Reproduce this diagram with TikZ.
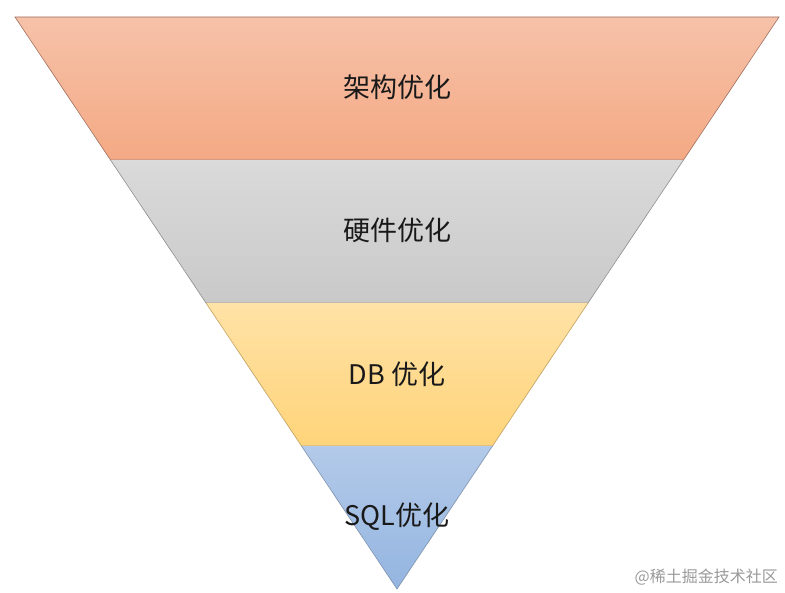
\documentclass[tikz,border=0pt]{standalone}
\usepackage{fontspec}
\newfontfamily\cjk{Noto Sans CJK SC}
\definecolor{oTop}{HTML}{F6C2A9}
\definecolor{oBot}{HTML}{F4A984}
\definecolor{oLine}{HTML}{A07060}
\definecolor{gTop}{HTML}{DADADA}
\definecolor{gBot}{HTML}{C9C9C9}
\definecolor{gLine}{HTML}{8E8E8E}
\definecolor{yTop}{HTML}{FFE2A6}
\definecolor{yBot}{HTML}{FFD47A}
\definecolor{yLine}{HTML}{C0A060}
\definecolor{bTop}{HTML}{B3CAE9}
\definecolor{bBot}{HTML}{94B5E0}
\definecolor{bLine}{HTML}{7E92AE}
\definecolor{wm}{HTML}{9A9A9A}
\tikzset{
  lbl/.style={font=\cjk\fontsize{27}{32}\selectfont, text=black!90, inner sep=0pt},
  band/.style={line width=0.6pt},
}
\begin{document}
\begin{tikzpicture}[x=1pt,y=-1pt]
\useasboundingbox (0,0) rectangle (785,593);
% coordinates
\coordinate (L0) at (15,17);   \coordinate (R0) at (779,17);
\coordinate (L1) at (110.5,160); \coordinate (R1) at (683.5,160);
\coordinate (L2) at (206,303); \coordinate (R2) at (588,303);
\coordinate (L3) at (301.5,446); \coordinate (R3) at (492.5,446);
\coordinate (A) at (397,589);
% bands
\shade[top color=oTop, bottom color=oBot] (L0) -- (R0) -- (R1) -- (L1) -- cycle;
\draw[band, oLine] (L0) -- (R0) -- (R1) -- (L1) -- cycle;
\shade[top color=gTop, bottom color=gBot] (L1) -- (R1) -- (R2) -- (L2) -- cycle;
\draw[band, gLine] (L1) -- (L2) -- (R2) -- (R1);
\shade[top color=yTop, bottom color=yBot] (L2) -- (R2) -- (R3) -- (L3) -- cycle;
\draw[band, yLine] (L2) -- (L3) -- (R3) -- (R2);
\shade[top color=bTop, bottom color=bBot] (L3) -- (R3) -- (A) -- cycle;
\draw[band, bLine] (L3) -- (A) -- (R3);
% labels
\node[lbl] (t1) at (397,87) {架构优化};
\node[lbl] (t2) at (397,230) {硬件优化};
\node[lbl] (t3) at (397,374) {DB 优化};
\node[lbl] (t4) at (397,517) {SQL优化};
% watermark
\node[font=\cjk\fontsize{16}{19}\selectfont, text=wm, anchor=east, inner sep=0pt] (wmk) at (778,577) {@稀土掘金技术社区};
\end{tikzpicture}
\end{document}
